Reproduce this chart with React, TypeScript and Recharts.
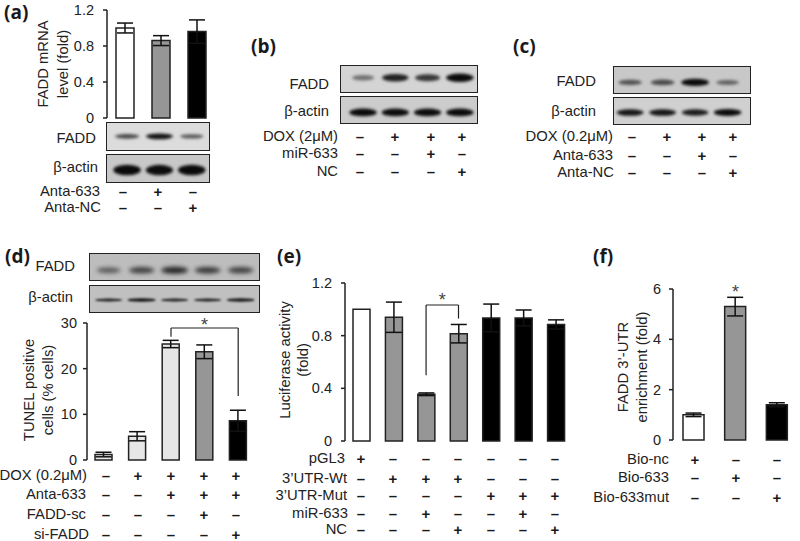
import { Bar, BarChart, Cell, ErrorBar, ReferenceDot, ReferenceLine, XAxis, YAxis } from "recharts";

const INK = "#222222";
const WHITE = "#ffffff";
const LIGHT = "#e6e6e6";
const GREY = "#969696";
const BLACK = "#000000";

// panel (a)
const aCats = ["control", "anta633", "antaNC"];
const aValues = [1.0, 0.86, 0.96];
const aErrors = [0.055, 0.055, 0.13];
const aFills = [WHITE, GREY, BLACK];
const aTicks = [0, 0.4, 0.8, 1.2];
const aFadd = [0.6, 0.95, 0.5];
const aActin = [1, 0.98, 1];

// panels (b) and (c) are blots only
const bFadd = [0.32, 0.85, 0.7, 1];
const bActin = [1, 0.98, 0.98, 1];
const cFadd = [0.5, 0.55, 1, 0.38];
const cActin = [0.92, 0.92, 0.88, 1];

// panel (d)
const dCats = ["ctrl", "dox", "anta", "sc", "si"];
const dValues = [1.2, 5.2, 25.4, 23.7, 8.6];
const dErrors = [0.5, 1.0, 0.8, 1.5, 2.3];
const dFills = [LIGHT, LIGHT, LIGHT, GREY, BLACK];
const dTicks = [0, 10, 20, 30];
const dFadd = [0.45, 0.62, 0.8, 0.68, 0.62];
const dActin = [0.85, 0.95, 0.85, 0.85, 0.9];

// panel (e)
const eCats = ["pGL3", "wt", "wtMiR", "wtNC", "mut", "mutMiR", "mutNC"];
const eValues = [1.0, 0.94, 0.355, 0.815, 0.935, 0.935, 0.885];
const eErrors = [0, 0.115, 0.01, 0.07, 0.105, 0.06, 0.035];
const eFills = [WHITE, GREY, GREY, GREY, BLACK, BLACK, BLACK];
const eTicks = [0, 0.4, 0.8, 1.2];

// panel (f)
const fCats = ["nc", "bio633", "mut"];
const fValues = [1.0, 5.3, 1.4];
const fErrors = [0.07, 0.37, 0.08];
const fFills = [WHITE, GREY, BLACK];
const fTicks = [0, 2, 4, 6];

const table = (cats: string[], values: number[], errors: number[], fills: string[]) =>
  cats.map((cat, i) => ({ cat, value: values[i], err: errors[i], fill: fills[i] }));

function Txt({ x, y, anchor = "center", size = 14.8, weight = 400, font, children }: any) {
  const shift = anchor === "center" ? "-50%" : anchor === "end" ? "-100%" : "0";
  return (
    <div
      style={{
        position: "absolute",
        left: x,
        top: y,
        transform: `translate(${shift}, -50%)`,
        fontSize: size,
        lineHeight: 1,
        whiteSpace: "nowrap",
        color: weight > 400 ? "#1a1a1a" : INK,
        fontWeight: weight,
        fontFamily: font ?? "inherit",
      }}
    >
      {children}
    </div>
  );
}

function VTitle({ x, y, children }: any) {
  return (
    <div
      style={{
        position: "absolute",
        left: x,
        top: y,
        transform: "translate(-50%, -50%) rotate(-90deg)",
        fontSize: 14.8,
        lineHeight: 1,
        whiteSpace: "nowrap",
        color: INK,
      }}
    >
      {children}
    </div>
  );
}

function PanelTag({ x, y, children }: any) {
  return (
    <Txt x={x} y={y} anchor="start" size={19} weight={700} font="'Open Sans'">
      {children}
    </Txt>
  );
}

// rows of +/- under a panel
function SignRows({ labelX, xs, rows }: any) {
  return (
    <>
      {rows.map((r: any) => (
        <div key={r.label}>
          <Txt x={labelX + (r.dx ?? 0)} y={r.y} anchor="end">
            {r.label}
          </Txt>
          {r.signs.split("").map((s: string, i: number) => (
            <Txt key={i} x={xs[i]} y={r.y} size={s === "+" ? 15 : 15} weight={700}>
              {s === "+" ? "+" : "–"}
            </Txt>
          ))}
        </div>
      ))}
    </>
  );
}

function Blot({ left, top, width, height, strengths, bg, center, thick, blur = 1.4, padLeft = 0, padRight = 0 }: any) {
  const data = strengths.map((s: number, i: number) => ({ lane: `lane${i}`, s, full: 1 }));
  const Band = (p: any) => {
    const rx = (p.width / 2) * (0.72 + 0.3 * p.payload.s);
    const ry = thick * (0.55 + 0.6 * p.payload.s);
    return (
      <ellipse
        cx={p.x + p.width / 2}
        cy={height * center}
        rx={rx}
        ry={ry}
        fill="#0a0a0a"
        fillOpacity={0.25 + 0.75 * p.payload.s}
        style={{ filter: `blur(${blur}px)` }}
      />
    );
  };
  return (
    <div
      style={{
        position: "absolute",
        left,
        top,
        width,
        height,
        border: `1.5px solid ${INK}`,
        boxSizing: "border-box",
        background: bg,
        overflow: "hidden",
      }}
    >
      <BarChart
        width={width - 3}
        height={height - 3}
        data={data}
        margin={{ top: 0, right: 0, bottom: 0, left: 0 }}
        barCategoryGap="8%"
      >
        <XAxis dataKey="lane" hide padding={{ left: padLeft, right: padRight }} />
        <YAxis hide domain={[0, 1]} />
        <Bar dataKey="full" shape={Band} isAnimationActive={false} />
      </BarChart>
    </div>
  );
}

function Panel({ x0, x1, y0, y1, data, ticks, domain, padRight = 0, barSize, tickMargin, children }: any) {
  const gutter = 50;
  const top = 16;
  const bottom = 12;
  return (
    <div style={{ position: "absolute", left: x0 - gutter, top: y0 - top }}>
      <BarChart
        width={x1 - x0 + gutter + 4}
        height={y1 - y0 + top + bottom}
        data={data}
        margin={{ top, right: 4, bottom, left: 0 }}
      >
        <XAxis
          dataKey="cat"
          height={0}
          tick={false}
          tickLine={false}
          axisLine={{ stroke: INK, strokeWidth: 1.5 }}
          padding={{ left: 0, right: padRight }}
        />
        <YAxis
          width={gutter}
          domain={domain}
          ticks={ticks}
          interval={0}
          tickSize={4}
          tickMargin={tickMargin}
          tick={{ fontSize: 14.5, fill: INK }}
          tickLine={{ stroke: INK, strokeWidth: 1.5 }}
          axisLine={{ stroke: INK, strokeWidth: 1.5 }}
        />
        <Bar dataKey="value" barSize={barSize} stroke={INK} strokeWidth={1.5} isAnimationActive={false}>
          {data.map((d: any) => (
            <Cell key={d.cat} fill={d.fill} />
          ))}
          <ErrorBar dataKey="err" width={8} stroke="#111" strokeWidth={1.5} isAnimationActive={false} />
        </Bar>
        {children}
      </BarChart>
    </div>
  );
}

const bracket = { stroke: INK, strokeWidth: 1.2 };
const star = { value: "*", fontSize: 18, fill: "#444" };

export default function App() {
  return (
    <div
      style={{
        position: "absolute",
        left: 0,
        top: 0,
        width: 800,
        height: 541,
        overflow: "hidden",
        background: "#fff",
        fontFamily: "'Liberation Sans', Arial, sans-serif",
      }}
    >
      {/* (a) */}
      <PanelTag x={4} y={12}>(a)</PanelTag>
      <VTitle x={43} y={64}>FADD mRNA</VTitle>
      <VTitle x={63} y={64}>level (fold)</VTitle>
      <Panel
        x0={107} x1={213} y0={10} y1={118}
        data={table(aCats, aValues, aErrors, aFills)}
        ticks={aTicks} domain={[0, 1.2]} padRight={-2} barSize={18} tickMargin={9}
      />
      <Blot left={106} top={122} width={104} height={29} strengths={aFadd} bg="#dcdcdc" center={0.46} thick={2.6} padLeft={4} />
      <Blot left={106} top={154} width={104} height={29} strengths={aActin} bg="#c8c8c8" center={0.52} thick={4.6} padLeft={4} />
      <Txt x={96} y={138} anchor="end">FADD</Txt>
      <Txt x={98} y={167} anchor="end">β-actin</Txt>
      <SignRows
        labelX={100}
        xs={[123, 158, 193]}
        rows={[
          { label: "Anta-633", y: 191, signs: "-+-" },
          { label: "Anta-NC", y: 207, dx: 1, signs: "--+" },
        ]}
      />

      {/* (b) */}
      <PanelTag x={251} y={46}>(b)</PanelTag>
      <Blot left={340} top={65} width={138} height={28} strengths={bFadd} bg="#d4d4d4" center={0.42} thick={3.6} padLeft={6} />
      <Blot left={340} top={96} width={138} height={28} strengths={bActin} bg="#cccccc" center={0.55} thick={3.4} padLeft={6} />
      <Txt x={329} y={84} anchor="end">FADD</Txt>
      <Txt x={329} y={111} anchor="end">β-actin</Txt>
      <SignRows
        labelX={338}
        xs={[360, 395, 431, 462]}
        rows={[
          { label: "DOX (2μM)", y: 136, signs: "-+++" },
          { label: "miR-633", y: 153, signs: "--+-" },
          { label: "NC", y: 171, signs: "---+" },
        ]}
      />

      {/* (c) */}
      <PanelTag x={513} y={46}>(c)</PanelTag>
      <Blot left={613} top={66} width={138} height={28} strengths={cFadd} bg="#c8c8c8" center={0.55} thick={3.2} blur={1.8} padRight={5} />
      <Blot left={613} top={97} width={138} height={28} strengths={cActin} bg="#d0d0d0" center={0.52} thick={3} padRight={5} />
      <Txt x={596} y={81} anchor="end">FADD</Txt>
      <Txt x={596} y={111} anchor="end">β-actin</Txt>
      <SignRows
        labelX={613}
        xs={[632, 667, 702, 733]}
        rows={[
          { label: "DOX (0.2μM)", y: 136, signs: "-+++" },
          { label: "Anta-633", y: 155, signs: "--+-" },
          { label: "Anta-NC", y: 172, dx: 1, signs: "---+" },
        ]}
      />

      {/* (d) */}
      <PanelTag x={5} y={256}>(d)</PanelTag>
      <Blot left={89} top={253} width={171} height={28} strengths={dFadd} bg="#bdbdbd" center={0.58} thick={3.4} blur={2.2} padLeft={2} padRight={1} />
      <Blot left={89} top={285} width={171} height={28} strengths={dActin} bg="#c0c0c0" center={0.5} thick={1.5} blur={0.8} padLeft={2} padRight={1} />
      <Txt x={75} y={266} anchor="end">FADD</Txt>
      <Txt x={73} y={297} anchor="end">β-actin</Txt>
      <VTitle x={29} y={390}>TUNEL positive</VTitle>
      <VTitle x={48} y={390}>cells (% cells)</VTitle>
      <Panel
        x0={87} x1={250} y0={323} y1={460}
        data={table(dCats, dValues, dErrors, dFills)}
        ticks={dTicks} domain={[0, 30]} padRight={-5} barSize={17} tickMargin={6}
      >
        <ReferenceLine segment={[{ x: "anta", y: 28.9 }, { x: "si", y: 28.9 }]} {...bracket} />
        <ReferenceLine segment={[{ x: "anta", y: 28.9 }, { x: "anta", y: 27 }]} {...bracket} />
        <ReferenceLine segment={[{ x: "si", y: 28.9 }, { x: "si", y: 14 }]} {...bracket} />
        <ReferenceDot x="sc" y={28.9} r={0} stroke="none" label={{ ...star, position: "top", dy: 8 }} />
      </Panel>
      <SignRows
        labelX={87}
        xs={[106, 138, 171, 204, 236]}
        rows={[
          { label: "DOX (0.2μM)", y: 475, signs: "-++++" },
          { label: "Anta-633", y: 494, dx: -1, signs: "--+++" },
          { label: "FADD-sc", y: 514, dx: -1, signs: "---+-" },
          { label: "si-FADD", y: 534, dx: 2, signs: "----+" },
        ]}
      />

      {/* (e) */}
      <PanelTag x={277} y={256}>(e)</PanelTag>
      <VTitle x={285} y={360}>Luciferase activity</VTitle>
      <VTitle x={303} y={360}>(fold)</VTitle>
      <Panel
        x0={345} x1={566} y0={283} y1={441}
        data={table(eCats, eValues, eErrors, eFills)}
        ticks={eTicks} domain={[0, 1.2]} padRight={-6} barSize={17} tickMargin={9}
      >
        <ReferenceLine
          segment={[{ x: "wtMiR", y: 1.033 }, { x: "wtNC", y: 1.033 }]}
          {...bracket}
          label={{ ...star, position: "top", dy: 6 }}
        />
        <ReferenceLine segment={[{ x: "wtMiR", y: 1.033 }, { x: "wtMiR", y: 0.5 }]} {...bracket} />
        <ReferenceLine segment={[{ x: "wtNC", y: 1.033 }, { x: "wtNC", y: 0.93 }]} {...bracket} />
      </Panel>
      <SignRows
        labelX={347}
        xs={[361, 393, 426, 458, 491, 523, 555]}
        rows={[
          { label: "pGL3", y: 458, dx: -2, signs: "+------" },
          { label: "3’UTR-Wt", y: 478, signs: "-+++---" },
          { label: "3’UTR-Mut", y: 495, signs: "----+++" },
          { label: "miR-633", y: 513, dx: 1, signs: "--+--+-" },
          { label: "NC", y: 529, signs: "---+--+" },
        ]}
      />

      {/* (f) */}
      <PanelTag x={593} y={256}>(f)</PanelTag>
      <VTitle x={623} y={367}>FADD 3’-UTR</VTitle>
      <VTitle x={642} y={367}>enrichment (fold)</VTitle>
      <Panel
        x0={673} x1={798} y0={289} y1={440}
        data={table(fCats, fValues, fErrors, fFills)}
        ticks={fTicks} domain={[0, 6]} barSize={21} tickMargin={8}
      >
        <ReferenceDot x="bio633" y={6} r={0} stroke="none" label={{ ...star, position: "center", dy: 3 }} />
      </Panel>
      <SignRows
        labelX={669}
        xs={[695, 736, 777]}
        rows={[
          { label: "Bio-nc", y: 459, signs: "+--" },
          { label: "Bio-633", y: 477, signs: "-+-" },
          { label: "Bio-633mut", y: 497, signs: "--+" },
        ]}
      />
    </div>
  );
}
